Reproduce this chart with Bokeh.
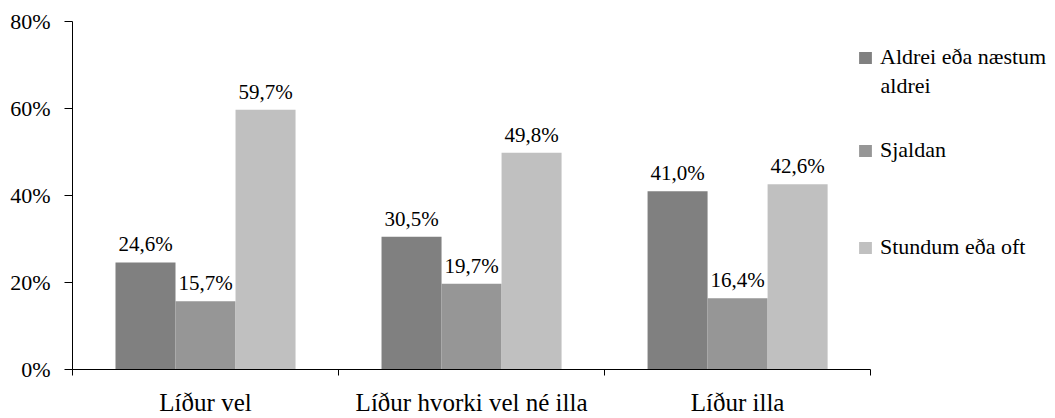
import numpy as np
from bokeh.plotting import figure
from bokeh.models import (Range1d, FixedTicker, PrintfTickFormatter, Legend, LegendItem, Label)
from bokeh.core.properties import value
from bokeh.embed import file_html
from bokeh.resources import INLINE

categories = ["Líður vel", "Líður hvorki vel né illa", "Líður illa"]
series = ["Aldrei eða næstum", "Sjaldan", "Stundum eða oft"]
series_extra = "aldrei"
aldrei = [24.6, 30.5, 41.0]
sjaldan = [15.7, 19.7, 16.4]
stundum = [59.7, 49.8, 42.6]
y_ticks = [0, 20, 40, 60, 80]
colors = ["#808080", "#969696", "#C0C0C0"]

FONT = "Liberation Serif, Times New Roman, serif"
W, H = 1055, 418
p = figure(width=W, height=H, output_backend="svg", toolbar_location=None,
           x_range=Range1d(0, 3.695), y_range=Range1d(0, 80),
           min_border_left=72, min_border_right=0, min_border_top=21, min_border_bottom=47)
p.outline_line_color = None
p.grid.visible = False
p.background_fill_color = "white"
p.border_fill_color = "white"

bw = 0.2256
centers = np.arange(len(categories)) + 0.5
renderers = []
for j, vals in enumerate([aldrei, sjaldan, stundum]):
    xs = centers + (j - 1) * bw
    r = p.vbar(x=xs, top=vals, width=bw, fill_color=colors[j], line_color=None)
    renderers.append(r)
    labels = [f"{v:.1f}%".replace(".", ",") for v in vals]
    p.text(x=xs, y=vals, text=labels, text_align="center", text_baseline="alphabetic",
           y_offset=-18, text_font=value(FONT), text_font_size="21px", text_color="black")

# y axis
p.yaxis.ticker = FixedTicker(ticks=y_ticks)
p.yaxis.formatter = PrintfTickFormatter(format="%d%%")
p.yaxis.major_tick_out = 8
p.yaxis.major_tick_in = 0
p.yaxis.minor_tick_out = 0
p.yaxis.minor_tick_in = 0
p.yaxis.major_label_standoff = 14
p.yaxis.axis_line_color = "black"
p.yaxis.major_tick_line_color = "black"
p.yaxis.major_label_text_font = FONT
p.yaxis.major_label_text_font_size = "22px"
p.yaxis.major_label_text_color = "black"

# x axis
p.xaxis.bounds = (0, 3)
p.xaxis.ticker = FixedTicker(ticks=list(centers), minor_ticks=[0, 1, 2, 3])
p.xaxis.major_label_overrides = {float(c): cat for c, cat in zip(centers, categories)}
p.xaxis.major_tick_out = 0
p.xaxis.major_tick_in = 0
p.xaxis.minor_tick_out = 6
p.xaxis.minor_tick_in = 0
p.xaxis.minor_tick_line_color = "black"
p.xaxis.axis_line_color = "black"
p.xaxis.major_label_standoff = 13
p.xaxis.major_label_text_font = FONT
p.xaxis.major_label_text_font_size = "25px"
p.xaxis.major_label_text_color = "black"

locs = [(785, 299), (785, 206), (785, 109)]
for j in range(3):
    lg = Legend(items=[LegendItem(label=series[j], renderers=[renderers[j]])],
                location=locs[j], padding=0, margin=0, spacing=0,
                glyph_width=16, glyph_height=15, label_standoff=7,
                label_text_font=FONT, label_text_font_size="22px",
                label_text_color="black", border_line_color=None,
                background_fill_alpha=0)
    p.add_layout(lg, "center")

p.add_layout(Label(x=808, y=284, x_units="screen", y_units="screen", text=series_extra,
                   text_font=FONT, text_font_size="22px", text_color="black",
                   text_baseline="middle", text_align="left"))

open("out.html", "w").write(file_html(p, INLINE))
